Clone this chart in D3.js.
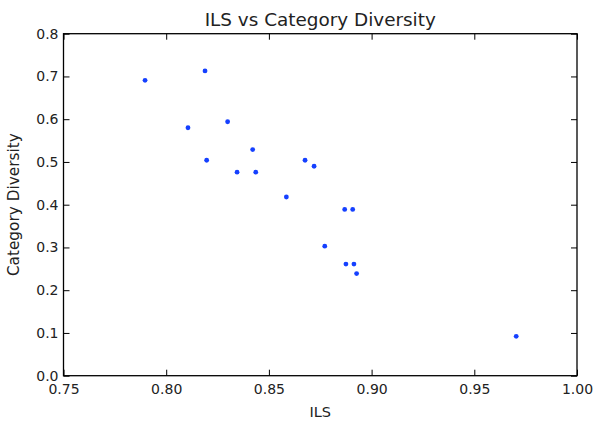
<!DOCTYPE html>
<html>
<head>
<meta charset="utf-8">
<script src="https://cdn.jsdelivr.net/npm/d3@7"></script>
<style>
  body { margin: 0; background: #fff; }
  text { font-family: "DejaVu Sans", sans-serif; fill: #222; }
</style>
</head>
<body>
<div id="chart"></div>
<script>
// data
var ils = [0.7897, 0.8189, 0.8106, 0.8299, 0.8421, 0.8197, 0.8345, 0.8436, 0.8676,
           0.8720, 0.8585, 0.8869, 0.8908, 0.8772, 0.8875, 0.8914, 0.8927, 0.9704];
var catDiv = [0.691, 0.713, 0.580, 0.594, 0.529, 0.504, 0.476, 0.476, 0.504,
              0.490, 0.418, 0.389, 0.389, 0.303, 0.261, 0.261, 0.239, 0.092];
var xTicks = [0.75, 0.80, 0.85, 0.90, 0.95, 1.00];
var yTicks = [0.0, 0.1, 0.2, 0.3, 0.4, 0.5, 0.6, 0.7, 0.8];

var W = 603, H = 431;
// plot box (note: "top" is taken by window.top)
var pLeft = 63.5, pRight = 577, pTop = 33.7, pBottom = 375.7;

var svg = d3.select('#chart').append('svg')
    .attr('width', W)
    .attr('height', H);

var x = d3.scaleLinear().domain([0.75, 1.00]).range([pLeft, pRight]);
var y = d3.scaleLinear().domain([0.0, 0.8]).range([pBottom, pTop]);

// axes, ticks pointing inward
function styleAxis(g) {
    g.select('.domain').remove();
    g.selectAll('.tick line').attr('stroke', '#000').attr('stroke-width', 1);
    g.selectAll('.tick text').attr('font-size', 14).attr('fill', '#222')
        .style('font-family', '"DejaVu Sans", sans-serif');
}

svg.append('g')
    .attr('transform', 'translate(0,' + pBottom + ')')
    .call(d3.axisBottom(x).tickValues(xTicks).tickFormat(d3.format('.2f'))
        .tickSizeInner(-6).tickSizeOuter(0).tickPadding(8))
    .call(styleAxis);

svg.append('g')
    .attr('transform', 'translate(' + pLeft + ',0)')
    .call(d3.axisLeft(y).tickValues(yTicks).tickFormat(d3.format('.1f'))
        .tickSizeInner(-6).tickSizeOuter(0).tickPadding(5))
    .call(styleAxis);

svg.append('g')
    .attr('transform', 'translate(0,' + pTop + ')')
    .call(d3.axisTop(x).tickValues(xTicks).tickFormat('')
        .tickSizeInner(-6).tickSizeOuter(0))
    .call(styleAxis);

svg.append('g')
    .attr('transform', 'translate(' + pRight + ',0)')
    .call(d3.axisRight(y).tickValues(yTicks).tickFormat('')
        .tickSizeInner(-6).tickSizeOuter(0))
    .call(styleAxis);

// frame
svg.append('rect')
    .attr('x', pLeft)
    .attr('y', pTop)
    .attr('width', pRight - pLeft)
    .attr('height', pBottom - pTop)
    .attr('fill', 'none')
    .attr('stroke', '#000')
    .attr('stroke-width', 1.3);

// points
svg.append('g').selectAll('circle')
    .data(d3.range(ils.length))
    .enter().append('circle')
    .attr('cx', function(i) { return x(ils[i]); })
    .attr('cy', function(i) { return y(catDiv[i]); })
    .attr('r', 2.4)
    .attr('fill', '#1540ff');

// title and labels
svg.append('text')
    .attr('x', (pLeft + pRight) / 2)
    .attr('y', 26)
    .attr('text-anchor', 'middle')
    .attr('font-size', 18.4)
    .text('ILS vs Category Diversity');

svg.append('text')
    .attr('x', (pLeft + pRight) / 2)
    .attr('y', 417)
    .attr('text-anchor', 'middle')
    .attr('font-size', 14.5)
    .text('ILS');

svg.append('text')
    .attr('transform', 'translate(19,' + (pTop + pBottom) / 2 + ') rotate(-90)')
    .attr('text-anchor', 'middle')
    .attr('font-size', 15.3)
    .text('Category Diversity');
</script>
</body>
</html>
